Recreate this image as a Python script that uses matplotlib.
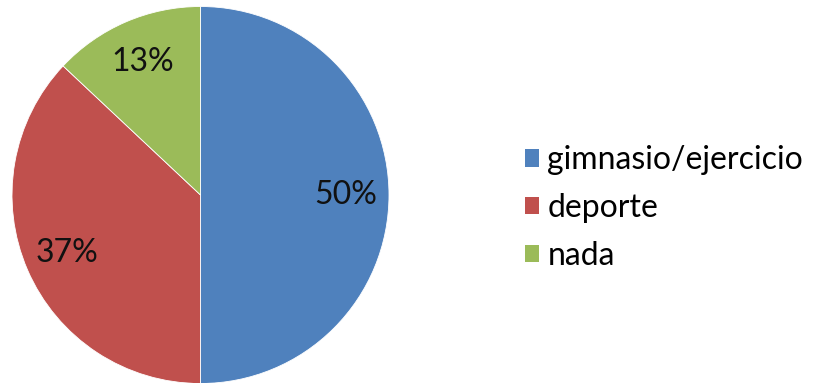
import matplotlib.pyplot as plt
from matplotlib.patches import Patch

categorias = ['gimnasio/ejercicio', 'deporte', 'nada']
porcentajes = [50, 37, 13]
colores = ['#4F81BD', '#C0504D', '#9BBB59']

plt.rcParams['font.family'] = ['Lato', 'DejaVu Sans']

fig = plt.figure(figsize=(8.15, 3.83), dpi=100)
ax = fig.add_axes([12 / 815, -0.5 / 383, 377 / 815, 377 / 383])

wedges, texts, autotexts = ax.pie(
    porcentajes, colors=colores, startangle=90, counterclock=False,
    autopct='%1.0f%%', pctdistance=0.77, radius=1.0,
    wedgeprops=dict(edgecolor='white', linewidth=0.6),
    textprops=dict(fontsize=23, color='#111111'))
ax.set_xlim(-1, 1)
ax.set_ylim(-1, 1)
ax.set_aspect('equal')

handles = [Patch(facecolor=c, edgecolor='none') for c in colores]
fig.legend(handles, categorias, loc='center left',
           bbox_to_anchor=(525 / 815, 1 - 208 / 383), frameon=False,
           fontsize=23, handlelength=0.45, handleheight=0.45,
           handletextpad=0.25, labelspacing=0.55, borderpad=0,
           borderaxespad=0)

fig.savefig('out.png', dpi=100)
